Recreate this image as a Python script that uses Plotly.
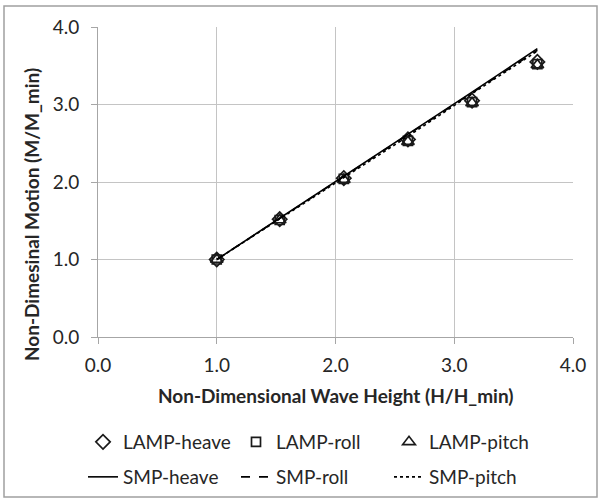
import plotly.graph_objects as go

# ---- data ----
wave_height = [1.00, 1.53, 2.07, 2.61, 3.15, 3.70]
lamp_heave = [1.00, 1.52, 2.05, 2.55, 3.05, 3.55]
lamp_roll = [1.00, 1.51, 2.04, 2.53, 3.03, 3.52]
lamp_pitch = [1.00, 1.51, 2.03, 2.52, 3.02, 3.51]
smp_heave = [1.00, 1.53, 2.07, 2.61, 3.16, 3.72]
smp_roll = [1.00, 1.53, 2.06, 2.60, 3.14, 3.70]
smp_pitch = [1.00, 1.52, 2.06, 2.59, 3.14, 3.69]
tick_vals = [0, 1, 2, 3, 4]
tick_text = ["0.0", "1.0", "2.0", "3.0", "4.0"]

FONT = "Lato"
FS = 19
W, H = 601, 500
L, R, T, B = 98, 28, 27, 163
pw, ph = W - L - R, H - T - B


def px_x(p):
    return (p - L) / pw


def px_y(p):
    return (H - B - p) / ph


fig = go.Figure()

marker_line = dict(color="#1a1a1a", width=1.7)
fig.add_trace(go.Scatter(x=wave_height, y=lamp_heave, mode="markers", name="LAMP-heave",
                         marker=dict(symbol="diamond-open", size=11, color="#1a1a1a", line=marker_line),
                         legend="legend"))
fig.add_trace(go.Scatter(x=wave_height, y=lamp_roll, mode="markers", name="LAMP-roll",
                         marker=dict(symbol="square-open", size=9, color="#1a1a1a", line=marker_line),
                         legend="legend"))
fig.add_trace(go.Scatter(x=wave_height, y=lamp_pitch, mode="markers", name="LAMP-pitch",
                         marker=dict(symbol="triangle-up-open", size=11, color="#1a1a1a", line=marker_line),
                         legend="legend"))
fig.add_trace(go.Scatter(x=wave_height, y=smp_heave, mode="lines", name="SMP-heave",
                         line=dict(color="black", width=1.6, dash="solid"), legend="legend2"))
fig.add_trace(go.Scatter(x=wave_height, y=smp_roll, mode="lines", name="SMP-roll",
                         line=dict(color="black", width=1.6, dash="dash"), legend="legend2"))
fig.add_trace(go.Scatter(x=wave_height, y=smp_pitch, mode="lines", name="SMP-pitch",
                         line=dict(color="black", width=1.6, dash="dot"), legend="legend2"))

axis_common = dict(
    range=[0, 4], tickvals=tick_vals, ticktext=tick_text,
    showgrid=True, gridcolor="#c4c4c4", gridwidth=1,
    showline=True, linecolor="#a6a6a6", linewidth=1,
    ticks="outside", ticklen=6, tickcolor="#a6a6a6",
    tickfont=dict(family=FONT, size=FS, color="#262626"),
    zeroline=False, fixedrange=True,
)

legend_common = dict(orientation="h", xanchor="left", yanchor="middle",
                     entrywidth=108, entrywidthmode="pixels", bgcolor="rgba(0,0,0,0)",
                     font=dict(family=FONT, size=FS, color="#262626"), tracegroupgap=0,
                     itemclick=False)

fig.update_layout(
    width=W, height=H,
    margin=dict(l=L, r=R, t=T, b=B, autoexpand=False),
    paper_bgcolor="white", plot_bgcolor="white",
    font=dict(family=FONT, size=FS, color="#262626"),
    xaxis=dict(**axis_common, ticklabelstandoff=5),
    yaxis=dict(**axis_common, ticklabelstandoff=8),
    legend=dict(**legend_common, x=px_x(83), y=px_y(442)),
    legend2=dict(**legend_common, x=px_x(83), y=px_y(477)),
    showlegend=True,
)

fig.add_annotation(text="<b>Non-Dimensional Wave Height (H/H_min)</b>", xref="paper", yref="paper",
                   x=0.5, y=px_y(395), xanchor="center", yanchor="middle", showarrow=False,
                   font=dict(family=FONT, size=FS, color="#262626"))
fig.add_annotation(text="<b>Non-Dimesinal Motion (M/M_min)</b>", xref="paper", yref="paper",
                   x=px_x(31), y=px_y(215), xanchor="center", yanchor="middle", showarrow=False,
                   textangle=-90, font=dict(family=FONT, size=FS, color="#262626"))

fig.add_shape(type="rect", xref="paper", yref="paper",
              x0=px_x(4), x1=px_x(597), y0=px_y(497), y1=px_y(6),
              line=dict(color="#a0a0a0", width=1.5), fillcolor="rgba(0,0,0,0)", layer="above")

fig.write_html("out.html", config={"displayModeBar": False, "staticPlot": True},
               post_script="document.body.style.margin='0';document.body.style.overflow='hidden';")
